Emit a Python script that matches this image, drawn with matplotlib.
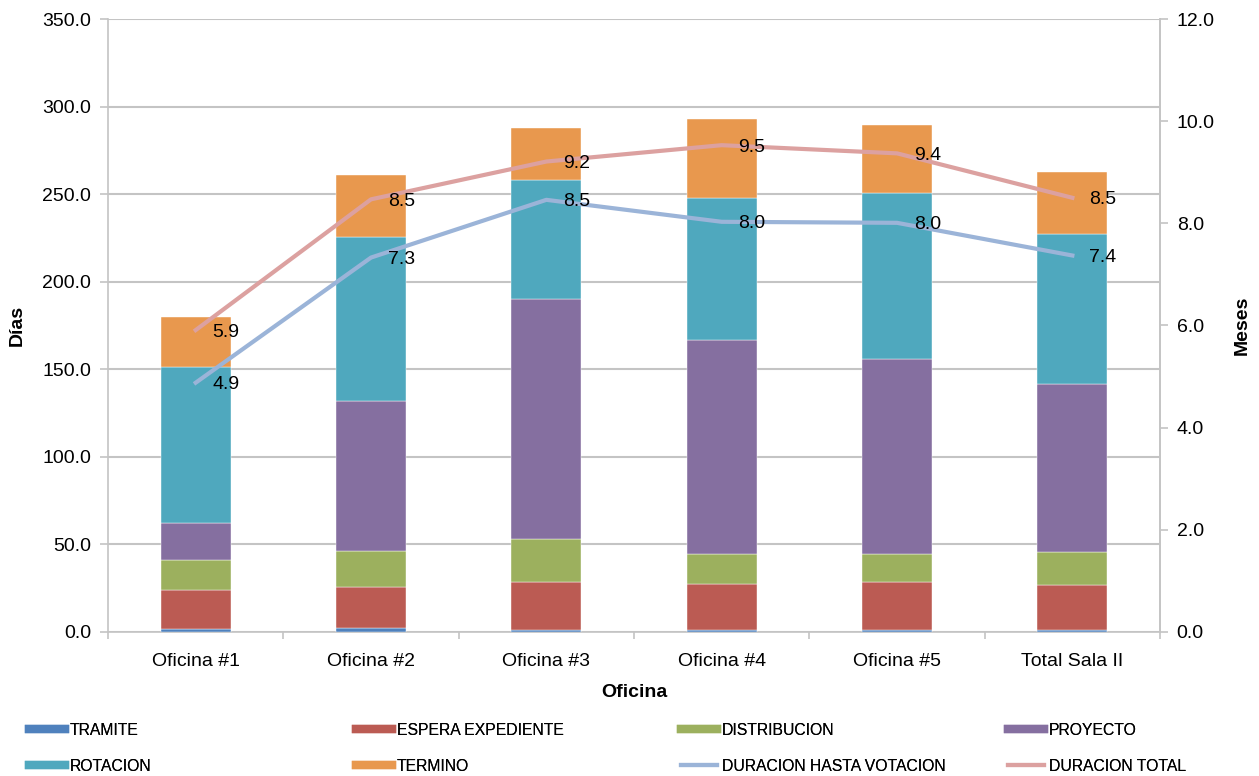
import matplotlib
matplotlib.use("Agg")
import matplotlib.pyplot as plt
from matplotlib.lines import Line2D
import numpy as np

plt.rcParams['font.family'] = ['Liberation Sans', 'DejaVu Sans']

categories = ["Oficina #1", "Oficina #2", "Oficina #3", "Oficina #4", "Oficina #5", "Total Sala II"]
tramite = [1.5, 2.0, 1.0, 1.0, 1.0, 1.0]
espera = [22.5, 23.5, 27.5, 26.4, 27.5, 26.0]
distribucion = [17.1, 20.9, 24.4, 17.0, 16.2, 18.7]
proyecto = [21.3, 85.4, 137.1, 122.4, 111.0, 95.9]
rotacion = [89.1, 94.0, 67.8, 81.2, 94.8, 85.5]
termino = [28.6, 35.2, 30.0, 44.8, 38.9, 35.4]
duracion_votacion = [4.88, 7.33, 8.46, 8.03, 8.01, 7.37]
duracion_total = [5.91, 8.47, 9.21, 9.53, 9.37, 8.50]

series_names = ["TRAMITE", "ESPERA EXPEDIENTE", "DISTRIBUCION", "PROYECTO", "ROTACION", "TERMINO"]
series_vals = [tramite, espera, distribucion, proyecto, rotacion, termino]
colors = ["#4F81BD", "#BB5B53", "#9CB05E", "#856FA0", "#4FA8BE", "#E8984E"]
line_blue = "#9BB4D8"
line_red = "#DCA1A0"
grid_c = "#C4C4C4"
fs = 14

fig = plt.figure(figsize=(12.59, 7.76), dpi=100)
ax = fig.add_axes([0.0858, 0.1856, 0.9214 - 0.0858, 0.9755 - 0.1856])
ax2 = ax.twinx()

x = np.arange(len(categories))
bottom = np.zeros(len(categories))
for name, vals, c in zip(series_names, series_vals, colors):
    ax.bar(x, vals, width=0.4, bottom=bottom, color=c, edgecolor="#FFFFFF", linewidth=0.3, zorder=3)
    bottom += np.array(vals)

ax.set_ylim(0, 350)
ax.set_xlim(-0.5, len(categories) - 0.5)
ax.set_yticks(np.arange(0, 351, 50))
ax.set_yticklabels([f"{v:.1f}" for v in np.arange(0, 351, 50)], fontsize=fs)
ax.yaxis.grid(True, color=grid_c, linewidth=1.5, zorder=0)
ax.set_axisbelow(True)
ax.set_xticks(np.arange(-0.5, len(categories), 1.0))
ax.set_xticklabels([])
ax.set_xticks(x, minor=True)
ax.set_xticklabels(categories, minor=True, fontsize=fs)
ax.tick_params(axis='x', which='minor', length=0, pad=15)
ax.tick_params(axis='x', which='major', length=5, color=grid_c, width=1.2)
ax.tick_params(axis='y', length=6, color=grid_c, width=1.2, pad=6)
ax.spines["top"].set_visible(False)
for s in ["left", "bottom", "right"]:
    ax.spines[s].set_color(grid_c)
    ax.spines[s].set_linewidth(1.2)
ax.set_xlabel("Oficina", fontsize=fs, fontweight="bold", labelpad=10)
ax.set_ylabel("Días", fontsize=fs, fontweight="bold", labelpad=12)

ax2.plot(x, duracion_votacion, color=line_blue, linewidth=3, zorder=4)
ax2.plot(x, duracion_total, color=line_red, linewidth=3, zorder=4)
for xi, v in zip(x, duracion_votacion):
    ax2.annotate(f"{v:.1f}", (xi, v), xytext=(12, -1.5), textcoords="offset points",
                 ha="left", va="center", fontsize=fs, color="black", zorder=6)
for xi, v in zip(x, duracion_total):
    ax2.annotate(f"{v:.1f}", (xi, v), xytext=(12, -1.5), textcoords="offset points",
                 ha="left", va="center", fontsize=fs, color="black", zorder=6)
ax2.set_ylim(0, 12)
ax2.set_yticks(np.arange(0, 12.1, 2))
ax2.set_yticklabels([f"{v:.1f}" for v in np.arange(0, 12.1, 2)], fontsize=fs)
ax2.tick_params(axis='y', length=6, color=grid_c, width=1.2, pad=6)
for s in ["top", "left", "bottom"]:
    ax2.spines[s].set_visible(False)
ax2.spines["right"].set_color(grid_c)
ax2.spines["right"].set_linewidth(1.2)
ax2.set_ylabel("Meses", fontsize=fs, fontweight="bold", rotation=90, labelpad=14)

handles = [Line2D([0], [0], color=c, linewidth=6) for c in colors]
handles += [Line2D([0], [0], color=line_blue, linewidth=3), Line2D([0], [0], color=line_red, linewidth=3)]
labels = series_names + ["DURACION HASTA VOTACION", "DURACION TOTAL"]
col_x = [29, 356, 681, 1008]
for ci in range(4):
    hs = [handles[ci], handles[ci + 4]]
    ls = [labels[ci], labels[ci + 4]]
    leg = fig.legend(hs, ls, loc="upper left", bbox_to_anchor=((col_x[ci] - 5) / 1259, 1 - 718 / 776),
                     frameon=False, fontsize=11.3, handlelength=2.3, handletextpad=0.3,
                     labelspacing=1.35, borderaxespad=0, borderpad=0.3)
    fig.add_artist(leg)

fig.savefig("out.png", dpi=100)
